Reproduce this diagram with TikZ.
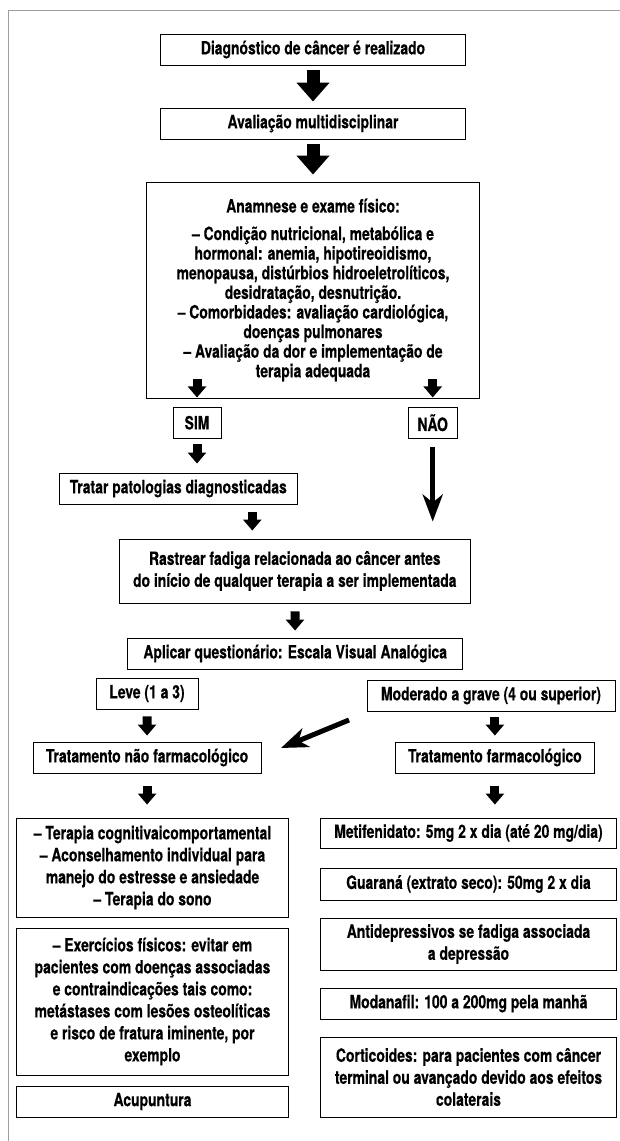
\documentclass[tikz,border=0pt]{standalone}
\usepackage{fontspec}
\setmainfont{TeX Gyre Heros}[FakeStretch=0.76, FakeBold=0.4]
\usetikzlibrary{arrows.meta}
\definecolor{framegray}{RGB}{158,158,158}

\begin{document}
\begin{tikzpicture}[x=1pt, y=-1pt,
	box/.style={draw=black, line width=0.9pt, align=center, inner sep=0pt,
		font=\bfseries\fontsize{18.3pt}{22pt}\selectfont},
	bigarrow/.style={line width=13pt, -{Triangle[width=32pt, length=19pt]}},
	smallarrow/.style={line width=9pt, -{Triangle[width=18pt, length=11pt]}},
	longarrow/.style={line width=5pt, -{Stealth[width=20pt, length=27pt, inset=8pt]}}]
	\useasboundingbox (0,0) rectangle (620,1141);
	\draw[framegray, line width=1.3pt] (8.7,1141) -- (8.7,10.5) -- (620,10.5);

	% upper part
	\node[box, minimum width=305pt, minimum height=31pt] (diag)     at (313,49.5)    {Diagnóstico de câncer é realizado};
	\node[box, minimum width=305pt, minimum height=31pt] (aval)     at (313,123.5)   {Avaliação multidisciplinar};
	\node[box, minimum width=333pt, minimum height=216pt,
		font=\bfseries\fontsize{18.3pt}{19.6pt}\selectfont] (anam)   at (313,290)     {Anamnese e exame físico:\\[8pt]
		– Condição nutricional, metabólica e\\
		hormonal: anemia, hipotireoidismo,\\
		menopausa, distúrbios hidroeletrolíticos,\\
		desidratação, desnutrição.\\
		– Comorbidades: avaliação cardiológica,\\
		doenças pulmonares\\
		– Avaliação da dor e implementação de\\
		terapia adequada};
	\node[box, minimum width=48pt, minimum height=30.5pt] (sim)     at (197,422.7)   {SIM};
	\node[box, minimum width=48.6pt, minimum height=30.5pt] (nao)   at (432.7,422.7) {NÃO};
	\node[box, minimum width=238pt, minimum height=31pt] (tratar)   at (178.3,488.5) {Tratar patologias diagnosticadas};
	\node[box, minimum width=351.5pt, minimum height=64pt] (rastrear) at (294.8,571) {Rastrear fadiga relacionada ao câncer antes\\
		do início de qualquer terapia a ser implementada};
	\node[box, minimum width=335pt, minimum height=31pt] (aplicar)  at (295.2,653.5) {Aplicar questionário: Escala Visual Analógica};
	\node[box, minimum width=102pt, minimum height=31pt] (leve)     at (147,693.5)   {Leve (1 a 3)};
	\node[box, minimum width=248pt, minimum height=31pt] (moderado) at (491,695.5)   {Moderado a grave (4 ou superior)};
	\node[box, minimum width=228pt, minimum height=31pt] (naofarm)  at (147.1,757.5) {Tratamento não farmacológico};
	\node[box, minimum width=199pt, minimum height=31pt] (farm)     at (494.9,757.5) {Tratamento farmacológico};

	% left column
	\node[box, minimum width=271.7pt, minimum height=99pt] (terapias) at (152.5,867.5) {– Terapia cognitivaicomportamental\\
		– Aconselhamento individual para\\
		manejo do estresse e ansiedade\\
		– Terapia do sono};
	\node[box, minimum width=271.7pt, minimum height=147pt] (exerc) at (152.5,1001.5) {– Exercícios físicos: evitar em\\
		pacientes com doenças associadas\\
		e contraindicações tais como:\\
		metástases com lesões osteolíticas\\
		e risco de fratura iminente, por\\
		exemplo};
	\node[box, minimum width=271.7pt, minimum height=31pt] (acup)  at (152.5,1101.5) {Acupuntura};

	% right column
	\node[box, minimum width=296.5pt, minimum height=30pt] (metif)   at (468.5,833)    {Metifenidato: 5mg 2 x dia (até 20 mg/dia)};
	\node[box, minimum width=296.5pt, minimum height=32pt] (guarana) at (468.5,884)    {Guaraná (extrato seco): 50mg 2 x dia};
	\node[box, minimum width=296.5pt, minimum height=52pt] (antidep) at (468.5,944)    {Antidepressivos se fadiga associada\\
		a depressão};
	\node[box, minimum width=296.5pt, minimum height=31pt] (modaf)   at (468.5,1003.5) {Modanafil: 100 a 200mg pela manhã};
	\node[box, minimum width=296.5pt, minimum height=80pt] (cortic)  at (468.5,1077)   {Corticoides: para pacientes com câncer\\
		terminal ou avançado devido aos efeitos\\
		colaterais};

	% connectors
	\path (sim |- anam.south) ++(0,-19) coordinate (simin);
	\path (nao |- anam.south) ++(0,-19) coordinate (naoin);
	\coordinate (tratout) at ([xshift=74pt]tratar.south);
	\coordinate (diagA) at (349,720);
	\coordinate (diagB) at (281,748);

	\path [bigarrow, shorten <=5pt, shorten >=6pt] (diag) edge (aval);
	\path [bigarrow, shorten <=5pt, shorten >=7pt] (aval) edge (anam);
	\path [smallarrow, shorten >=1pt] (simin) edge (sim |- anam.south);
	\path [smallarrow, shorten >=1pt] (naoin) edge (nao |- anam.south);
	\path [smallarrow, shorten <=6pt, shorten >=9pt] (sim) edge (sim |- tratar.north);
	\path [longarrow, shorten <=9pt, shorten >=17pt] (nao) edge (nao |- rastrear.north);
	\path [smallarrow, shorten <=8pt, shorten >=8pt] (tratout) edge (tratout |- rastrear.north);
	\path [smallarrow, shorten <=8pt, shorten >=7pt] (rastrear) edge (aplicar);
	\path [smallarrow, shorten <=7pt, shorten >=6pt] (leve) edge (naofarm);
	\path [smallarrow, shorten <=6pt, shorten >=6pt] (moderado.south -| farm) edge (farm);
	\path [longarrow] (diagA) edge (diagB);
	\path [smallarrow, shorten <=13pt, shorten >=13pt] (naofarm) edge (naofarm |- terapias.north);
	\path [smallarrow, shorten <=13pt, shorten >=13pt] (farm) edge (farm |- metif.north);
\end{tikzpicture}
\end{document}
